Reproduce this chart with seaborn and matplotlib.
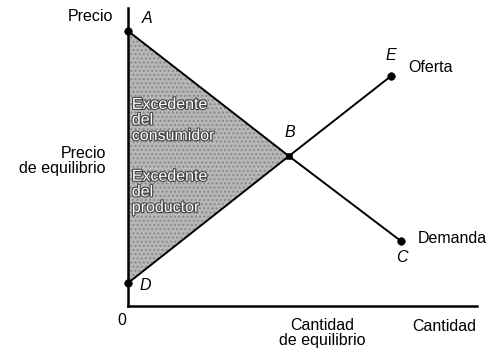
import numpy as np
import pandas as pd
import seaborn as sns
import matplotlib.pyplot as plt
import matplotlib.patheffects as pe

# points (quantity, price)
names = ['A', 'B', 'C', 'D', 'E']
qty = [0.0, 4.61, 7.82, 0.0, 7.54]
price = [9.23, 5.03, 2.18, 0.77, 7.72]
eq_qty_tick = 5.56

pts = pd.DataFrame({'name': names, 'q': qty, 'p': price}).set_index('name')
demand = pts.loc[['A', 'B', 'C']].reset_index()
supply = pts.loc[['D', 'B', 'E']].reset_index()

sns.set_style('white')
plt.rcParams['font.family'] = ['Liberation Sans', 'DejaVu Sans']
plt.rcParams['text.color'] = 'black'
plt.rcParams['xtick.color'] = 'black'
plt.rcParams['ytick.color'] = 'black'

fig = plt.figure(figsize=(4.98, 3.53), dpi=100)
ax = fig.add_axes([128 / 498, 47 / 353, 349 / 498, 298 / 353])

# shaded surplus triangle A-B-D
tri = pts.loc[['A', 'B', 'D']]
ax.fill(tri['q'], tri['p'], facecolor='#b8b8b8', edgecolor='#8a8a8a',
        hatch='....', linewidth=0, zorder=1)

sns.lineplot(data=demand, x='q', y='p', sort=False, color='black', lw=1.4, ax=ax, zorder=3)
sns.lineplot(data=supply, x='q', y='p', sort=False, color='black', lw=1.4, ax=ax, zorder=3)
sns.scatterplot(data=pts.drop('B').reset_index(), x='q', y='p', color='black',
                s=30, ax=ax, zorder=4, edgecolor='black', clip_on=False)
sns.scatterplot(data=pts.loc[['B']].reset_index(), x='q', y='p', color='black',
                marker='s', s=22, ax=ax, zorder=4, edgecolor='black')

ax.set_xlim(0, 10)
ax.set_ylim(0, 10)
for s in ['top', 'right']:
    ax.spines[s].set_visible(False)
for s in ['left', 'bottom']:
    ax.spines[s].set_linewidth(1.8)
    ax.spines[s].set_color('black')

fs = 11.5
ax.set_xticks([eq_qty_tick])
ax.set_xticklabels(['Cantidad\nde equilibrio'], fontsize=fs, linespacing=0.95)
ax.tick_params(axis='x', direction='inout', length=14, width=1, pad=2)
ax.set_yticks([4.9])
ax.set_yticklabels(['Precio\nde equilibrio'], fontsize=fs, linespacing=0.95)
ax.tick_params(axis='y', length=0, pad=16)
ax.set_xlabel('')
ax.set_ylabel('')

# point letters
letters = {'A': (0.54, 9.66), 'B': (4.64, 5.81), 'E': (7.54, 8.39),
           'C': (7.85, 1.64), 'D': (0.49, 0.70)}
for k, (x, y) in letters.items():
    ax.text(x, y, k, style='italic', fontsize=fs, ha='center', va='center')

ax.text(8.02, 8.02, 'Oferta', fontsize=fs, ha='left', va='center')
ax.text(8.31, 2.28, 'Demanda', fontsize=fs, ha='left', va='center', clip_on=False)
ax.text(9.05, -0.70, 'Cantidad', fontsize=fs, ha='center', va='center', clip_on=False)
ax.text(-0.17, -0.47, '0', fontsize=fs, ha='center', va='center', clip_on=False)
ax.text(-0.43, 9.70, 'Precio', fontsize=fs, ha='right', va='center', clip_on=False)

outline = [pe.withStroke(linewidth=1.6, foreground='#444444')]
ax.text(0.11, 6.24, 'Excedente\ndel\nconsumidor', fontsize=fs, color='white',
        ha='left', va='center', linespacing=1.05, path_effects=outline, zorder=5)
ax.text(0.11, 3.83, 'Excedente\ndel\nproductor', fontsize=fs, color='white',
        ha='left', va='center', linespacing=1.05, path_effects=outline, zorder=5)

fig.savefig('out.png', dpi=100)
